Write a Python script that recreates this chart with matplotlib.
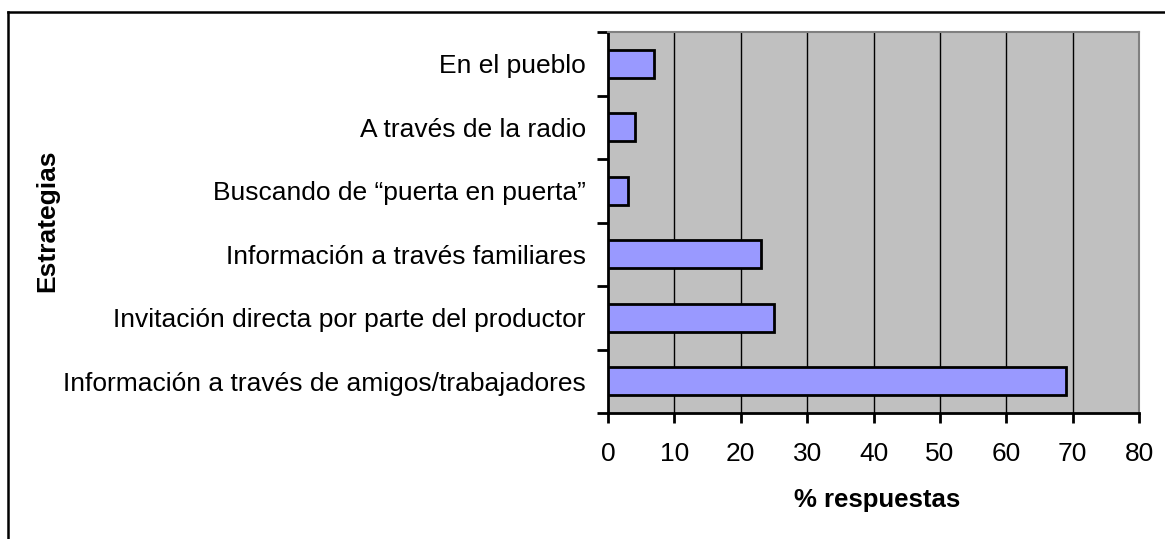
import matplotlib.pyplot as plt
from matplotlib.lines import Line2D
import numpy as np

plt.rcParams['font.family'] = ['Liberation Sans', 'DejaVu Sans']

# estrategias, de abajo hacia arriba
estrategias = [
    'Información a través de amigos/trabajadores',
    'Invitación directa por parte del productor',
    'Información a través familiares',
    'Buscando de \u201cpuerta en puerta\u201d',
    'A través de la radio',
    'En el pueblo',
]
respuestas = [69, 25, 23, 3, 4, 7]
xticks = [0, 10, 20, 30, 40, 50, 60, 70, 80]

fig = plt.figure(figsize=(11.65, 5.39), dpi=100)
ax = fig.add_axes([608 / 1165, 1 - 413 / 539, 531 / 1165, 381 / 539])
ax.set_facecolor('#c0c0c0')

y = np.arange(len(estrategias))
ax.barh(y, respuestas, height=0.44, color='#9999ff', edgecolor='black',
        linewidth=2, zorder=3)

ax.set_xlim(0, 80)
ax.set_ylim(-0.5, len(estrategias) - 0.5)

# gridlines verticales
ax.set_xticks(xticks)
for v in xticks[1:-1]:
    ax.axvline(v, color='black', linewidth=1, zorder=1)

# marcas en los limites de categoria, etiquetas en el centro
ax.set_yticks(np.arange(-0.5, len(estrategias)), labels=[''] * (len(estrategias) + 1))
ax.set_yticks(y, labels=estrategias, minor=True)
ax.tick_params(axis='y', which='major', direction='out', length=8, width=2)
ax.tick_params(axis='y', which='minor', length=0, pad=16, labelsize=19)
ax.tick_params(axis='x', direction='out', length=7, width=2, pad=14,
               labelsize=19)

for s in ['top', 'right']:
    ax.spines[s].set_color('#808080')
    ax.spines[s].set_linewidth(1.5)
for s in ['left', 'bottom']:
    ax.spines[s].set_color('black')
    ax.spines[s].set_linewidth(2)

fig.text(47 / 1165, 1 - 221 / 539, 'Estrategias', rotation=90, ha='center',
         va='center', fontsize=19, fontweight='bold')
fig.text(877 / 1165, 1 - 500 / 539, '% respuestas', ha='center', va='center',
         fontsize=18.5, fontweight='bold')

# marco exterior
fig.add_artist(Line2D([8 / 1165, 1], [1 - 12 / 539] * 2, color='black',
                      linewidth=1.8, transform=fig.transFigure))
fig.add_artist(Line2D([8 / 1165] * 2, [0, 1 - 12 / 539], color='black',
                      linewidth=1.8, transform=fig.transFigure))

fig.savefig('out.png', dpi=100)
